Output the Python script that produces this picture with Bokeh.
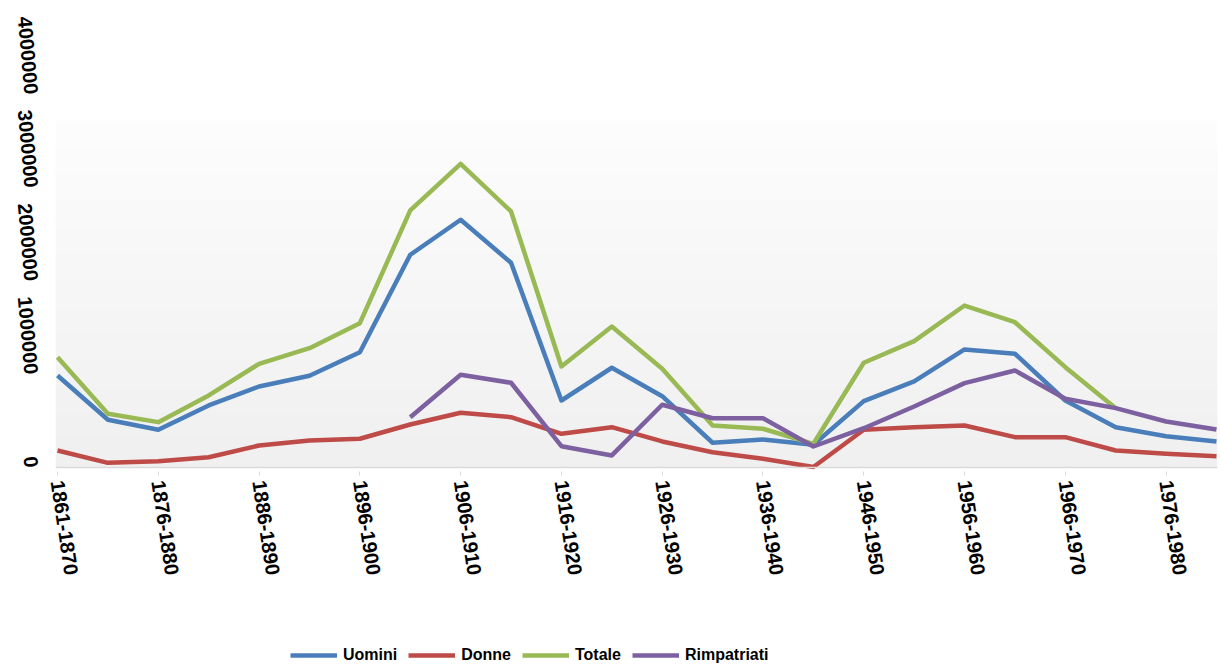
import math
import numpy as np
from bokeh.plotting import figure
from bokeh.layouts import column
from bokeh.models import (ColumnDataSource, FixedTicker, Range1d, Span, Legend,
                          LegendItem, NumeralTickFormatter)
from bokeh.embed import file_html
from bokeh.resources import INLINE

# Periodi (il primo è decennale, poi quinquenni)
periodi = ["1861-1870", "1871-1875", "1876-1880", "1881-1885", "1886-1890",
           "1891-1895", "1896-1900", "1901-1905", "1906-1910", "1911-1915",
           "1916-1920", "1921-1925", "1926-1930", "1931-1935", "1936-1940",
           "1941-1945", "1946-1950", "1951-1955", "1956-1960", "1961-1965",
           "1966-1970", "1971-1975", "1976-1980", "1981-1985"]

NA = float("nan")

uomini = [986000, 511000, 404000, 665000, 868000, 983000, 1236000, 2280000,
          2655000, 2194000, 718000, 1069000, 764000, 265000, 300000, 243000,
          711000, 922000, 1265000, 1219000, 718000, 432000, 335000, 279000]

donne = [182000, 50000, 68000, 110000, 236000, 289000, 308000, 461000,
         586000, 539000, 361000, 432000, 279000, 164000, 93000, 5000,
         404000, 432000, 450000, 325000, 325000, 182000, 147000, 121000]

totale = [1182000, 576000, 486000, 772000, 1111000, 1279000, 1547000, 2755000,
          3255000, 2744000, 1083000, 1511000, 1058000, 450000, 415000, 254000,
          1122000, 1354000, 1736000, 1557000, 1075000, 636000, NA, NA]

rimpatriati = [NA, NA, NA, NA, NA, NA, NA, 539000,
               994000, 908000, 228000, 129000, 672000, 528000, 528000, 225000,
               421000, 654000, 904000, 1040000, 736000, 636000, 493000, 407000]

y_ticks = [0, 1000000, 2000000, 3000000, 4000000]

serie = [("Uomini", uomini, "#4A7EBB"),
         ("Donne", donne, "#BE4B48"),
         ("Totale", totale, "#98B954"),
         ("Rimpatriati", rimpatriati, "#7D60A0")]

FONT = "Liberation Sans"
LINE_W = 4.5

x = list(range(len(periodi)))
source = ColumnDataSource(dict(x=x, uomini=uomini, donne=donne,
                               totale=totale, rimpatriati=rimpatriati))

p = figure(width=1221, height=630, output_backend="svg", toolbar_location=None,
           x_range=Range1d(-0.04, len(periodi) - 1 + 0.02),
           y_range=Range1d(-43000, 4094000),
           min_border_left=55, min_border_right=4,
           min_border_top=85, min_border_bottom=159)
p.outline_line_color = None
p.background_fill_color = "white"
p.border_fill_color = "white"
p.xgrid.visible = False
p.ygrid.visible = False

# sfondo sfumato dell'area del grafico
area_top = 3720000
rows = 96
shade = np.linspace(240, 253, rows).astype(np.uint8)
img = np.empty((rows, 1), dtype=np.uint32)
view = img.view(dtype=np.uint8).reshape((rows, 1, 4))
view[:, 0, 0] = shade
view[:, 0, 1] = shade
view[:, 0, 2] = shade
view[:, 0, 3] = 255
p.image_rgba(image=[img], x=-0.04, y=0, dw=len(periodi) - 1 + 0.06, dh=area_top)

p.add_layout(Span(location=0, dimension="width", line_color="#d9d9d9",
                  line_width=1.5))

for nome, valori, colore in serie:
    p.line("x", nome.lower(), source=source, line_color=colore,
           line_width=LINE_W, line_join="round")

# asse x: un'etichetta ogni due periodi
xa = p.xaxis[0]
xa.ticker = FixedTicker(ticks=x[::2])
xa.major_label_overrides = {i: periodi[i] for i in x[::2]}
xa.major_label_orientation = -math.radians(81.5)
xa.axis_line_color = None
xa.major_tick_out = 4
xa.major_tick_in = 0
xa.major_tick_line_color = "#d9d9d9"
xa.minor_tick_line_color = None
xa.major_label_standoff = 5
xa.major_label_text_font = FONT
xa.major_label_text_font_style = "bold"
xa.major_label_text_font_size = "20px"
xa.major_label_text_color = "black"

ya = p.yaxis[0]
ya.ticker = FixedTicker(ticks=y_ticks)
ya.formatter = NumeralTickFormatter(format="0")
ya.major_label_orientation = -math.radians(85)
ya.axis_line_color = None
ya.major_tick_line_color = None
ya.minor_tick_line_color = None
ya.major_label_standoff = 18
ya.major_label_text_font = FONT
ya.major_label_text_font_style = "bold"
ya.major_label_text_font_size = "20px"
ya.major_label_text_color = "black"

# legenda in una fascia separata sotto il grafico; le linee di questa
# fascia cadono fuori dal suo intervallo visibile e servono solo da campione
leg = figure(width=1221, height=37, output_backend="svg", toolbar_location=None,
             x_range=Range1d(1000, 1001), y_range=Range1d(0, 1),
             min_border=0, x_axis_type=None, y_axis_type=None)
leg.outline_line_color = None
leg.xgrid.visible = False
leg.ygrid.visible = False
items = []
for nome, valori, colore in serie:
    r = leg.line("x", nome.lower(), source=source, line_color=colore,
                 line_width=LINE_W)
    items.append(LegendItem(label=nome, renderers=[r]))

legend = Legend(items=items, orientation="horizontal", location=(235, 2),
                glyph_width=47, glyph_height=20, label_height=20,
                label_standoff=6, spacing=11, padding=0, margin=0,
                label_text_font=FONT, label_text_font_style="bold",
                label_text_font_size="16px", label_text_color="black",
                background_fill_alpha=0, border_line_color=None)
leg.add_layout(legend, "center")

layout = column(p, leg, spacing=0)
open("out.html", "w").write(file_html(layout, INLINE))
